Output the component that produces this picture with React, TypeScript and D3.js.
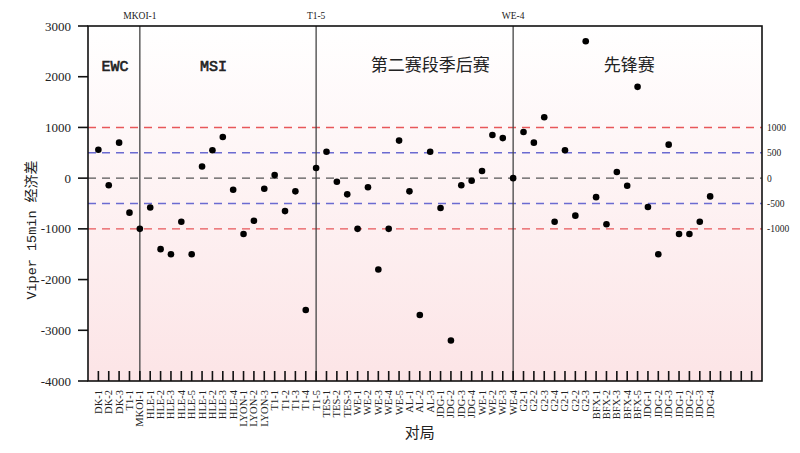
import React from "react";
import * as d3 from "d3";

const labels: string[] = [
  "DK-1","DK-2","DK-3","T1-1","MKOI-1",
  "HLE-1","HLE-2","HLE-3","HLE-4","HLE-5",
  "HLE-1","HLE-2","HLE-3","HLE-4",
  "LYON-1","LYON-2","LYON-3",
  "T1-1","T1-2","T1-3","T1-4","T1-5",
  "TES-1","TES-2","TES-3",
  "WE-1","WE-2","WE-3","WE-4","WE-5",
  "AL-1","AL-2","AL-3",
  "JDG-1","JDG-2","JDG-3","JDG-4",
  "WE-1","WE-2","WE-3","WE-4",
  "G2-1","G2-2","G2-3","G2-4",
  "G2-1","G2-2","G2-3",
  "BFX-1","BFX-2","BFX-3","BFX-4","BFX-5",
  "JDG-1","JDG-2","JDG-3",
  "JDG-1","JDG-2","JDG-3","JDG-4",
];

const values: number[] = [
  560, -140, 700, -680, -1000,
  -580, -1400, -1500, -860, -1500,
  230, 550, 810, -230,
  -1100, -840, -210,
  60, -650, -260, -2600, 200,
  520, -70, -320,
  -1000, -180, -1800, -1000, 740,
  -260, -2700, 520,
  -590, -3200, -140, -50,
  140, 850, 790, 0,
  910, 700, 1200, -860,
  550, -740, 2700,
  -375, -910, 120, -150, 1800,
  -570, -1500, 660,
  -1100, -1100, -860, -360,
];

const tickCount = 64;
const yTicks: number[] = [-4000, -3000, -2000, -1000, 0, 1000, 2000, 3000];
const refLines: { v: number; color: string; label: string }[] = [
  { v: 1000, color: "#e8575a", label: "1000" },
  { v: 500, color: "#6b6bd1", label: "500" },
  { v: 0, color: "#555555", label: "0" },
  { v: -500, color: "#6b6bd1", label: "-500" },
  { v: -1000, color: "#e8575a", label: "-1000" },
];
const dividers: number[] = [4, 21, 40];
const sections: { name: string; at: number; mono: boolean }[] = [
  { name: "EWC", at: 1.6, mono: true },
  { name: "MSI", at: 11.1, mono: true },
  { name: "第二赛段季后赛", at: 32.0, mono: false },
  { name: "先锋赛", at: 51.2, mono: false },
];

export default function App() {
  const W = 800, H = 453;
  const left = 88, right = 762, top = 26, bottom = 381;
  const x = d3.scaleLinear().domain([-1, 64]).range([left, right]);
  const y = d3.scaleLinear().domain([-4000, 3000]).range([bottom, top]);
  const serif = "'Liberation Serif', 'DejaVu Serif', serif";
  const mono = "'Liberation Mono', 'DejaVu Sans Mono', monospace";
  const cjk = "'Noto Sans CJK SC', sans-serif";

  return (
    <svg width={W} height={H} style={{ position: "absolute", left: 0, top: 0, background: "#fff" }}>
      <defs>
        <linearGradient id="bg" x1="0" y1="0" x2="0" y2="1">
          <stop offset="0" stopColor="#ffffff" />
          <stop offset="1" stopColor="#fce4e6" />
        </linearGradient>
      </defs>
      <rect x={left} y={top} width={right - left} height={bottom - top} fill="url(#bg)" />

      {refLines.map((r) => (
        <g key={r.label}>
          <line x1={left} x2={right} y1={y(r.v)} y2={y(r.v)} stroke={r.color} strokeWidth={1.4} strokeDasharray="8,6" />
          <text x={767} y={y(r.v) + 3.5} fontFamily={serif} fontSize={9.5} fill="#222">{r.label}</text>
        </g>
      ))}

      {dividers.map((d) => (
        <g key={d}>
          <line x1={x(d)} x2={x(d)} y1={top} y2={bottom} stroke="#444" strokeWidth={1.3} />
          <text x={x(d)} y={19} textAnchor="middle" fontFamily={serif} fontSize={9.5} fill="#222">{labels[d]}</text>
        </g>
      ))}

      {sections.map((s) => (
        <text key={s.name} x={x(s.at)} y={71} textAnchor="middle"
          fontFamily={s.mono ? mono : cjk} fontSize={s.mono ? 15 : 17} fill="#222"
          stroke={s.mono ? "#222" : "none"} strokeWidth={s.mono ? 0.6 : 0}>{s.name}</text>
      ))}

      {d3.range(tickCount).map((i) => (
        <line key={i} x1={x(i)} x2={x(i)} y1={bottom - 10} y2={bottom} stroke="#111" strokeWidth={1.6} />
      ))}

      {values.map((v, i) => (
        <circle key={i} cx={x(i)} cy={y(v)} r={3.3} fill="#000" />
      ))}

      <rect x={left} y={top} width={right - left} height={bottom - top} fill="none" stroke="#111" strokeWidth={1.6} />

      {yTicks.map((t) => (
        <g key={t}>
          <line x1={left - 10} x2={left} y1={y(t)} y2={y(t)} stroke="#111" strokeWidth={1.6} />
          <text x={71} y={y(t) + 4.5} textAnchor="end" fontFamily={serif} fontSize={13} fill="#222">{t}</text>
        </g>
      ))}

      {labels.map((l, i) => (
        <text key={i} transform={`translate(${x(i) + 3.5},390) rotate(-90)`} textAnchor="end"
          fontFamily={serif} fontSize={10.5} fill="#222">{l}</text>
      ))}

      <text x={x(31)} y={438} textAnchor="middle" fontFamily={cjk} fontSize={15} fill="#222">对局</text>

      <text transform={`translate(36,230) rotate(-90)`} textAnchor="middle" fill="#222">
        <tspan fontFamily={mono} fontSize={13.5}>Viper 15min </tspan>
        <tspan fontFamily={cjk} fontSize={14}>经济差</tspan>
      </text>
    </svg>
  );
}
